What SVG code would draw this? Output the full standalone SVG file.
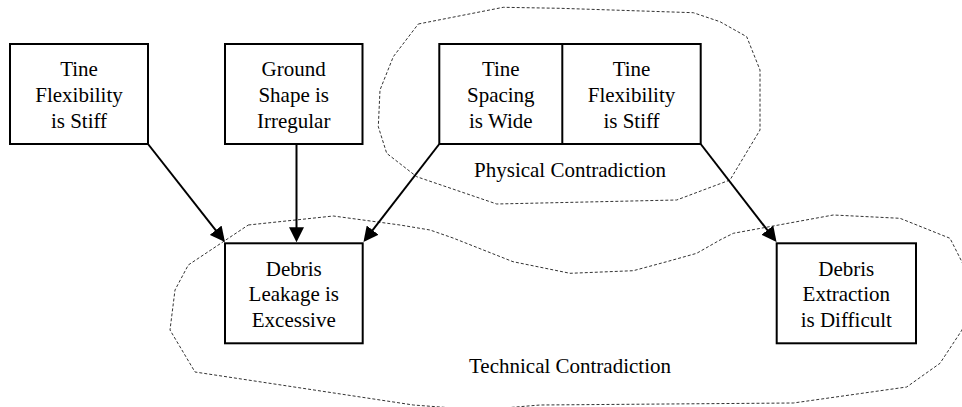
<svg xmlns="http://www.w3.org/2000/svg" width="962" height="407" viewBox="0 0 962 407">
  <style>
    .box { fill: #fff; stroke: #000; stroke-width: 2; }
    .lbl { font-family: "Liberation Serif", "Times New Roman", serif; font-size: 21px; fill: #000; text-anchor: middle; }
    .edge { stroke: #000; stroke-width: 2; fill: none; }
    .region { fill: none; stroke: #333; stroke-width: 1; stroke-dasharray: 3 2; }
  </style>
  <defs>
    <marker id="arrow" markerUnits="userSpaceOnUse" markerWidth="15" markerHeight="15" refX="12" refY="7.5" orient="auto">
      <path d="M0,0 L15,7.5 L0,15 Z" fill="#000"/>
    </marker>
  </defs>
  <rect width="962" height="407" fill="#fff"/>

  <!-- dotted contradiction regions -->
  <g id="regions">
    <polygon class="region" points="418.3,24 503.3,7.3 560,8.3 693.3,12.7 720,21.7 746.7,36.7 760,70 760,130 730,180 676.7,200 496.7,204 416.7,176.7 386.7,153.3 378.3,126.7 380,90 393.3,56.7"/>
    <polygon class="region" points="248.3,225 333.3,216 400,225 430,230 453,238 513,261.7 570,273.3 633.3,270.7 666.7,261.7 696.7,253.3 720,240 733.3,233.3 833.3,215 900,218.3 950,238.3 962,262 972,290 962,330 940,363.3 906.7,387 793.3,403 540,405 480,410 413.3,405 195,372 170,330 175,290 188.3,265"/>
    <text class="lbl" x="570" y="177">Physical Contradiction</text>
    <text class="lbl" x="570" y="373">Technical Contradiction</text>
  </g>

  <!-- connectors -->
  <g id="connectors">
    <line class="edge" x1="148" y1="144" x2="223.1" y2="239.6" marker-end="url(#arrow)"/>
    <line class="edge" x1="296.5" y1="144" x2="296.5" y2="239.3" marker-end="url(#arrow)"/>
    <line class="edge" x1="439.3" y1="144" x2="365.3" y2="239.6" marker-end="url(#arrow)"/>
    <line class="edge" x1="700.7" y1="144" x2="774.7" y2="239.6" marker-end="url(#arrow)"/>
  </g>

  <g id="tine-flexibility-left">
    <rect class="box" x="10" y="44" width="138" height="100"/>
    <text class="lbl" x="79" y="76">Tine</text>
    <text class="lbl" x="79" y="101.7">Flexibility</text>
    <text class="lbl" x="79" y="127.5">is Stiff</text>
  </g>

  <g id="ground-shape">
    <rect class="box" x="225" y="44" width="137.5" height="100"/>
    <text class="lbl" x="293.7" y="76">Ground</text>
    <text class="lbl" x="293.7" y="101.7">Shape is</text>
    <text class="lbl" x="293.7" y="127.5">Irregular</text>
  </g>

  <g id="tine-pair">
    <rect class="box" x="439.3" y="44" width="261.4" height="100"/>
    <line class="edge" x1="562.3" y1="44" x2="562.3" y2="144"/>
    <text class="lbl" x="500.8" y="76">Tine</text>
    <text class="lbl" x="500.8" y="101.7">Spacing</text>
    <text class="lbl" x="500.8" y="127.5">is Wide</text>
    <text class="lbl" x="631.5" y="76">Tine</text>
    <text class="lbl" x="631.5" y="101.7">Flexibility</text>
    <text class="lbl" x="631.5" y="127.5">is Stiff</text>
  </g>

  <g id="debris-leakage">
    <rect class="box" x="225" y="243.3" width="137.7" height="100"/>
    <text class="lbl" x="293.8" y="276">Debris</text>
    <text class="lbl" x="293.8" y="301">Leakage is</text>
    <text class="lbl" x="293.8" y="326.7">Excessive</text>
  </g>

  <g id="debris-extraction">
    <rect class="box" x="776.7" y="243.3" width="139.3" height="100"/>
    <text class="lbl" x="846.3" y="276">Debris</text>
    <text class="lbl" x="846.3" y="301">Extraction</text>
    <text class="lbl" x="846.3" y="326.7">is Difficult</text>
  </g>
</svg>
